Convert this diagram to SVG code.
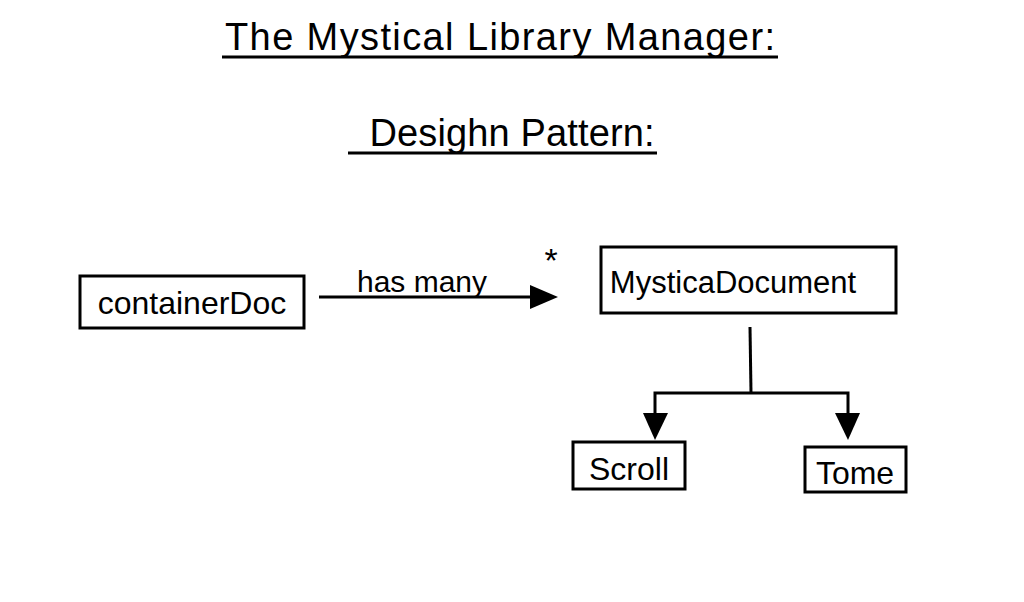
<svg xmlns="http://www.w3.org/2000/svg" width="1024" height="602" viewBox="0 0 1024 602">
<style>
.box{fill:#fff;stroke:#000;stroke-width:3}
.ln{fill:none;stroke:#000;stroke-width:3}
.t{font-family:"Liberation Sans",Arial,sans-serif;fill:#000}
</style>
<rect width="1024" height="602" fill="#fff"/>
<g id="title">
<text class="t" x="500" y="50" font-size="38" text-anchor="middle" textLength="550" lengthAdjust="spacing">The Mystical Library Manager:</text>
<line class="ln" x1="222" y1="57" x2="778" y2="57"/>
<text class="t" x="512" y="146" font-size="38" text-anchor="middle" textLength="285" lengthAdjust="spacing">Desighn Pattern:</text>
<line class="ln" x1="348" y1="153" x2="657" y2="153"/>
</g>
<g id="containerDoc">
<rect class="box" x="80" y="276" width="224" height="52"/>
<text class="t" x="192" y="314" font-size="32" text-anchor="middle">containerDoc</text>
</g>
<g id="MysticaDocument">
<rect class="box" x="601" y="247" width="295" height="66"/>
<text class="t" x="733" y="293" font-size="31" text-anchor="middle">MysticaDocument</text>
</g>
<g id="Scroll">
<rect class="box" x="573" y="442" width="112" height="47"/>
<text class="t" x="629" y="480" font-size="32" text-anchor="middle">Scroll</text>
</g>
<g id="Tome">
<rect class="box" x="805" y="447" width="101" height="45"/>
<text class="t" x="855" y="484" font-size="32" text-anchor="middle">Tome</text>
</g>
<g id="connectors">
<line class="ln" x1="319" y1="297" x2="530" y2="297"/>
<path d="M530,285 L558,297 L530,309 Z" fill="#000"/>
<text class="t" x="422" y="292" font-size="30" text-anchor="middle">has many</text>
<text class="t" x="551" y="272" font-size="34" text-anchor="middle">*</text>
<polyline class="ln" points="750,327 751,393"/>
<polyline class="ln" points="655,414 655,393 848,393 848,414"/>
<path d="M643,413 L668,413 L655,440 Z" fill="#000"/>
<path d="M835,413 L860,413 L848,440 Z" fill="#000"/>
</g>
</svg>
